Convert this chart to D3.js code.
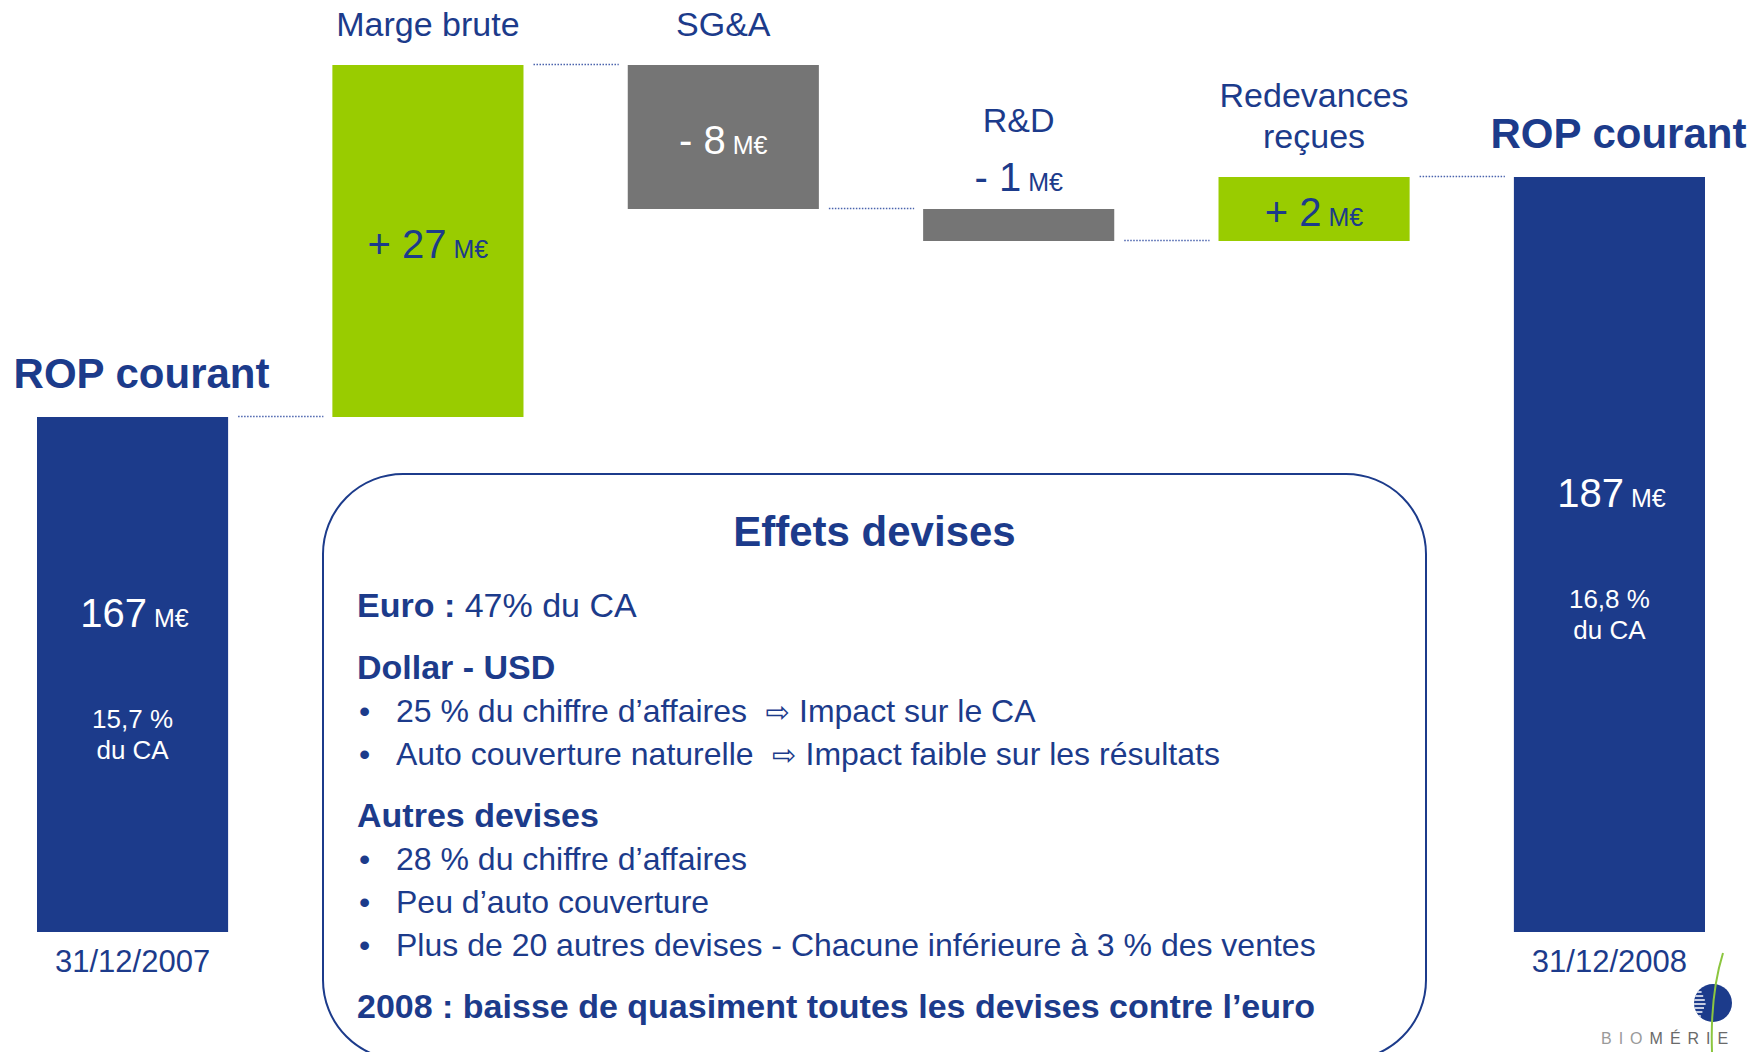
<!DOCTYPE html>
<html>
<head>
<meta charset="utf-8">
<script src="https://cdn.jsdelivr.net/npm/d3@7"></script>
<style>
  body { margin: 0; background: #fff; }
  svg { display: block; font-family: "Liberation Sans", Arial, "DejaVu Sans", sans-serif; }
  text { white-space: pre; }
</style>
</head>
<body>
<div id="chart"></div>
<script>
(function()
{
    // Waterfall steps (M€)
    var steps = ["ROP 2007", "Marge brute", "SG&A", "R&D", "Redevances", "ROP 2008"];
    var values = [167, 27, -8, -1, 2, 187];
    var isTotal = [true, false, false, false, false, true];
    var stepLabels = [["ROP courant"], ["Marge brute"], ["SG&A"], ["R&D"], ["Redevances", "reçues"], ["ROP courant"]];
    var dateLabels = ["31/12/2007", "", "", "", "", "31/12/2008"];
    var shareLabels = [["15,7 %", "du CA"], [], [], [], [], ["16,8 %", "du CA"]];
    var unit = "M€";

    // Text box content
    var boxTitle = "Effets devises";
    var boxKinds = ["head", "head", "bullet", "bullet", "head", "bullet", "bullet", "bullet", "head"];
    var boxBold = ["Euro : ", "Dollar - USD", "", "", "Autres devises", "", "", "", "2008 : baisse de quasiment toutes les devises contre l’euro"];
    var boxText = ["47% du CA", "", "25 % du chiffre d’affaires", "Auto couverture naturelle", "", "28 % du chiffre d’affaires", "Peu d’auto couverture", "Plus de 20 autres devises - Chacune inférieure à 3 % des ventes", ""];
    var boxArrow = ["", "", "Impact sur le CA", "Impact faible sur les résultats", "", "", "", "", ""];

    var blue = "#1c3b8b", green = "#99cc00", grey = "#757575";

    var width = 1764, height = 1052;

    var svg = d3.select("#chart").append("svg")
        .attr("width", width)
        .attr("height", height);

    // running totals
    var data = [], run = 0;
    values.forEach(function(v, i) {
        var d = {key: steps[i], value: v, total: isTotal[i], i: i};
        if (d.total) { d.y0 = 0; d.y1 = v; run = v; }
        else { d.y0 = run; d.y1 = run + v; run += v; }
        data.push(d);
    });

    // slide is not drawn to scale -> piecewise linear scale
    var y = d3.scaleLinear()
        .domain([0, 167, 185, 187, 194])
        .range([932, 417, 241, 177, 65]);

    var x = d3.scaleBand().domain(steps).range([37, 1705]).paddingInner(0.353);
    var bw = x.bandwidth();

    function colour(d) { return d.total ? blue : (d.value > 0 ? green : grey); }
    function top(d) { return y(Math.max(d.y0, d.y1)); }
    function bottom(d) { return y(Math.min(d.y0, d.y1)); }
    function mid(d) { return x(d.key) + bw / 2; }

    // connectors
    data.slice(0, -1).forEach(function(d, i) {
        var n = data[i + 1];
        svg.append("line")
            .attr("x1", x(d.key) + bw + 10).attr("x2", x(n.key) - 9)
            .attr("y1", y(d.y1) - 0.5).attr("y2", y(d.y1) - 0.5)
            .attr("stroke", "#4a63ad").attr("stroke-width", 1.6)
            .attr("stroke-dasharray", "1.5,1.5");
    });

    // bars
    svg.selectAll(".bar")
        .data(data)
        .enter().append("rect")
        .attr("class", "bar")
        .attr("x", function(d) { return x(d.key); })
        .attr("width", bw)
        .attr("y", top)
        .attr("height", function(d) { return bottom(d) - top(d); })
        .attr("fill", colour);

    // value labels
    data.forEach(function(d) {
        var h = bottom(d) - top(d);
        var inside = h > 50;
        var ty, fill;
        if (d.total) { ty = (top(d) + bottom(d)) / 2 - 48; fill = "#fff"; }
        else if (inside) { ty = (top(d) + bottom(d)) / 2 + 17; fill = d.value > 0 ? blue : "#fff"; }
        else { ty = top(d) - 18; fill = blue; }
        d.labelTop = inside ? top(d) : ty - 30;

        var t = svg.append("text")
            .attr("x", mid(d) + (d.total ? 2 : 0)).attr("y", ty)
            .attr("text-anchor", "middle")
            .attr("fill", fill);
        t.append("tspan").attr("font-size", 40)
            .text(d.total ? String(d.value) : (d.value > 0 ? "+ " : "- ") + Math.abs(d.value));
        t.append("tspan").attr("font-size", 25).text(" " + unit);

        shareLabels[d.i].forEach(function(s, k) {
            svg.append("text")
                .attr("x", mid(d)).attr("y", (top(d) + bottom(d)) / 2 + 53 + k * 31)
                .attr("text-anchor", "middle")
                .attr("font-size", 26).attr("fill", "#fff")
                .text(s);
        });

        // step names
        var lines = stepLabels[d.i];
        lines.forEach(function(s, k) {
            svg.append("text")
                .attr("x", mid(d) + (d.total ? 9 : 0))
                .attr("y", d.labelTop - 29 - (lines.length - 1 - k) * 41)
                .attr("text-anchor", "middle")
                .attr("font-size", d.total ? 42 : 34)
                .attr("font-weight", d.total ? "bold" : "normal")
                .attr("fill", blue)
                .text(s);
        });

        if (dateLabels[d.i]) {
            svg.append("text")
                .attr("x", mid(d)).attr("y", 972)
                .attr("text-anchor", "middle")
                .attr("font-size", 31).attr("fill", blue)
                .text(dateLabels[d.i]);
        }
    });

    // Effets devises box
    svg.append("rect")
        .attr("x", 323).attr("y", 474)
        .attr("width", 1103).attr("height", 586)
        .attr("rx", 80).attr("ry", 80)
        .attr("fill", "none").attr("stroke", blue).attr("stroke-width", 2);

    svg.append("text")
        .attr("x", 874.5).attr("y", 546)
        .attr("text-anchor", "middle")
        .attr("font-size", 42).attr("font-weight", "bold").attr("fill", blue)
        .text(boxTitle);

    var by = 617 - 62;
    boxKinds.forEach(function(kind, i) {
        by += kind === "head" ? 62 : 43;
        if (kind === "head") {
            var t = svg.append("text").attr("x", 357).attr("y", by)
                .attr("font-size", 34).attr("fill", blue);
            t.append("tspan").attr("font-weight", "bold").text(boxBold[i]);
            if (boxText[i]) t.append("tspan").text(boxText[i]);
        } else {
            svg.append("text").attr("x", 359).attr("y", by)
                .attr("font-size", 32).attr("fill", blue).text("•");
            var t2 = svg.append("text").attr("x", 396).attr("y", by)
                .attr("font-size", 32).attr("fill", blue);
            t2.append("tspan").text(boxText[i]);
            if (boxArrow[i]) {
                t2.append("tspan").attr("font-family", "DejaVu Sans").attr("font-size", 29).text("  ⇨ ");
                t2.append("tspan").text(boxArrow[i]);
            }
        }
    });

    // logo
    var logo = svg.append("g");
    var clip = svg.append("clipPath").attr("id", "globe");
    clip.append("circle").attr("cx", 1713).attr("cy", 1003).attr("r", 19);
    logo.append("circle").attr("cx", 1713).attr("cy", 1003).attr("r", 19).attr("fill", blue);
    var stripes = logo.append("g").attr("clip-path", "url(#globe)");
    d3.range(-15, 16, 4).forEach(function(o) {
        stripes.append("line")
            .attr("x1", 1690).attr("x2", 1706 - Math.abs(o) * 0.4)
            .attr("y1", 1003 + o).attr("y2", 1003 + o)
            .attr("stroke", "#fff").attr("stroke-width", 1.4);
    });
    logo.append("path")
        .attr("d", "M1723,953 Q1710,995 1712,1052")
        .attr("fill", "none").attr("stroke", "#8cc63f").attr("stroke-width", 2);
    var lt = logo.append("text").attr("x", 1601).attr("y", 1044)
        .attr("font-size", 16).attr("letter-spacing", 7);
    lt.append("tspan").attr("fill", "#9a9a9a").text("BIO");
    lt.append("tspan").attr("fill", "#6a6a6a").text("MÉRIE");

})()
</script>
</body>
</html>
